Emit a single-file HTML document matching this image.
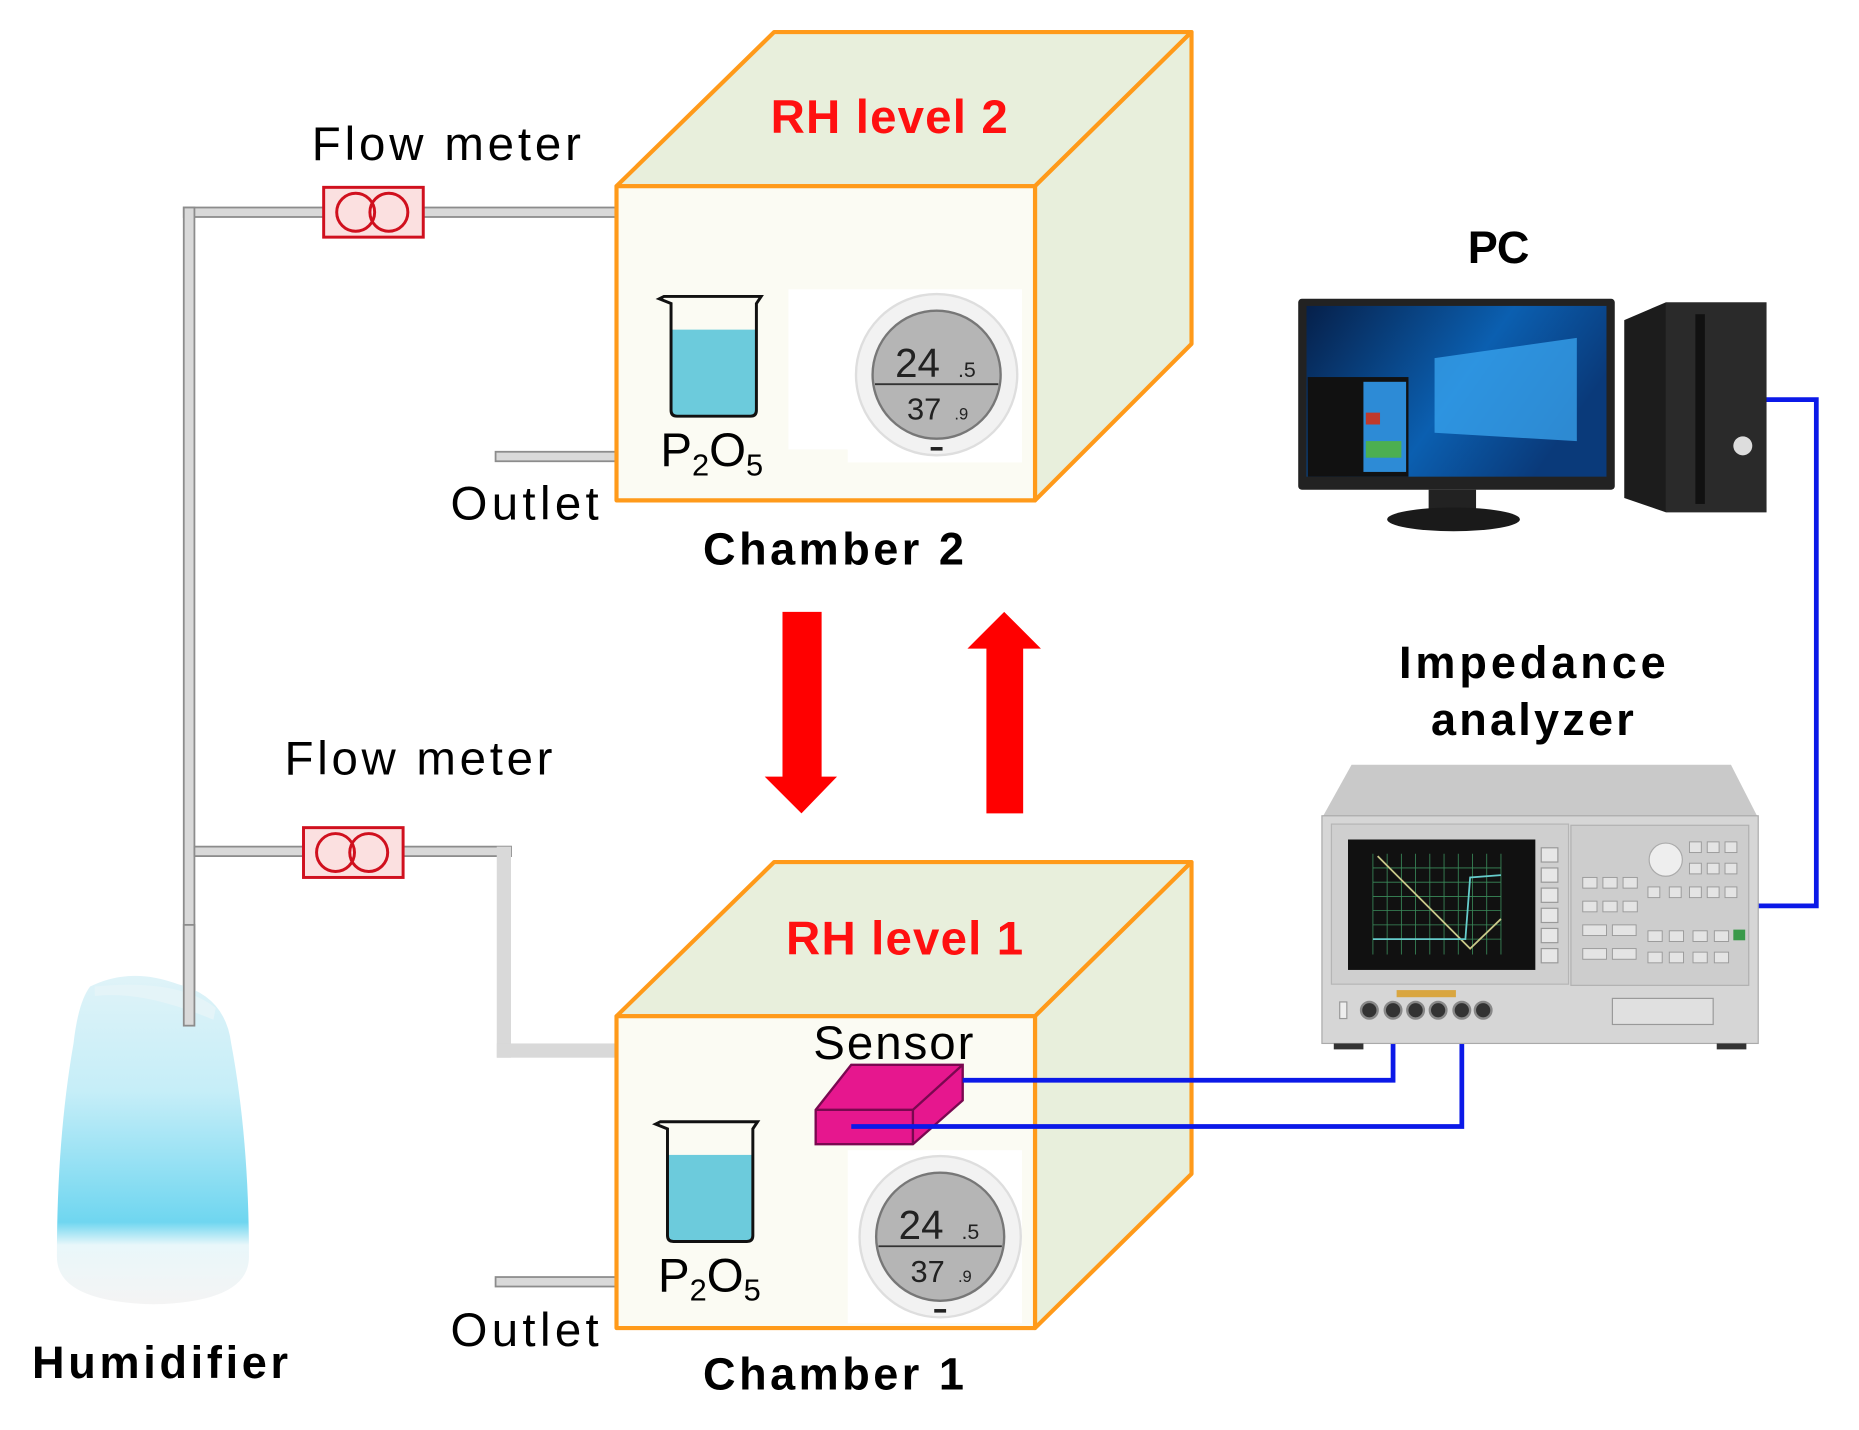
<!DOCTYPE html>
<html><head><meta charset="utf-8"><style>
html,body{margin:0;padding:0;background:#fff;}
svg{display:block;}
text{font-family:"Liberation Sans",sans-serif;}
</style></head><body>
<svg width="1859" height="1430" viewBox="0 0 1568 1206" preserveAspectRatio="none" xmlns="http://www.w3.org/2000/svg">
<defs>
<linearGradient id="hum" x1="0" y1="0" x2="0" y2="1">
<stop offset="0" stop-color="#dff3f8"/><stop offset="0.35" stop-color="#c6eef8"/><stop offset="0.75" stop-color="#6fd6f0"/><stop offset="0.82" stop-color="#e9f7fa"/><stop offset="1" stop-color="#f4f4f4"/>
</linearGradient>
<linearGradient id="scr" x1="0" y1="0" x2="1" y2="0.4">
<stop offset="0" stop-color="#06204a"/><stop offset="0.6" stop-color="#0b5fb0"/><stop offset="1" stop-color="#0a3a7a"/>
</linearGradient>
</defs>

<g fill="#d9d9d9" stroke="#8c8c8c" stroke-width="1.5">
<rect x="155" y="175" width="367" height="8"/>
<rect x="155" y="175" width="9" height="690"/>
<rect x="164" y="714" width="267" height="8"/>
<rect x="418" y="381" width="102" height="8"/>
<rect x="418" y="1077" width="102" height="8"/>
</g>
<rect x="419" y="714" width="12" height="178" fill="#d9d9d9"/>
<rect x="419" y="880" width="101" height="12" fill="#d9d9d9"/>

<g stroke="#d0101e" stroke-width="2.5" fill="#fbe0e0">
<rect x="273" y="158" width="84" height="42"/>
<circle cx="300" cy="179" r="16" fill="none"/><circle cx="328" cy="179" r="16" fill="none"/>
<rect x="256" y="698" width="84" height="42"/>
<circle cx="283" cy="719" r="16" fill="none"/><circle cx="311" cy="719" r="16" fill="none"/>
</g>
<text x="263" y="135" font-size="40" textLength="227">Flow meter</text>
<text x="240" y="653" font-size="40" textLength="226">Flow meter</text>

<g stroke="#ff9a1a" stroke-width="3.5" stroke-linejoin="round">
<polygon points="520,157 653,27 1005,27 873,157" fill="#e8efdc"/>
<polygon points="873,157 1005,27 1005,290 873,422" fill="#e8efdc"/>
<rect x="520" y="157" width="353" height="265" fill="#fbfbf3"/>
</g>
<text x="650" y="112" font-size="40" font-weight="bold" fill="#ff1010" textLength="200">RH level 2</text>
<g stroke="#ff9a1a" stroke-width="3.5" stroke-linejoin="round">
<polygon points="520,857 653,727 1005,727 873,857" fill="#e8efdc"/>
<polygon points="873,857 1005,727 1005,990 873,1120" fill="#e8efdc"/>
<rect x="520" y="857" width="353" height="263" fill="#fbfbf3"/>
</g>
<text x="663" y="805" font-size="40" font-weight="bold" fill="#ff1010" textLength="200">RH level 1</text>

<g>
<rect x="566" y="278" width="72" height="72" fill="#6ccbdc"/>
<path d="M556,252 L566,256 L566,346 Q566,351 571,351 L633,351 Q638,351 638,346 L638,256 L642,250 L560,250 Z" fill="none" stroke="#111" stroke-width="2.5"/>
<text x="557" y="393" font-size="40">P<tspan font-size="26" dy="8">2</tspan><tspan dy="-8">O</tspan><tspan font-size="26" dy="8">5</tspan></text>
</g>
<g>
<rect x="563" y="974" width="72" height="72" fill="#6ccbdc"/>
<path d="M553,948 L563,952 L563,1042 Q563,1047 568,1047 L630,1047 Q635,1047 635,1042 L635,952 L639,946 L557,946 Z" fill="none" stroke="#111" stroke-width="2.5"/>
<text x="555" y="1089" font-size="40">P<tspan font-size="26" dy="8">2</tspan><tspan dy="-8">O</tspan><tspan font-size="26" dy="8">5</tspan></text>
</g>

<g>
<rect x="665" y="244" width="197" height="135" fill="#fff"/>
<rect x="715" y="244" width="147" height="146" fill="#fff"/>
<circle cx="790" cy="316" r="68" fill="#f2f2f2" stroke="#dedede" stroke-width="2"/>
<circle cx="790" cy="316" r="54" fill="#b5b5b5" stroke="#777" stroke-width="2"/>
<line x1="738" y1="324" x2="842" y2="324" stroke="#333" stroke-width="1.5"/>
<text x="755" y="318" font-size="34" font-family="Liberation Mono" fill="#222">24</text>
<text x="808" y="318" font-size="18" fill="#222">.5</text>
<text x="765" y="354" font-size="26" font-family="Liberation Mono" fill="#222">37</text>
<text x="805" y="354" font-size="14" fill="#222">.9</text>
<rect x="785" y="377" width="10" height="3" fill="#222"/>
</g>
<g>
<rect x="715" y="970" width="147" height="146" fill="#fff"/>
<circle cx="793" cy="1043" r="68" fill="#f2f2f2" stroke="#dedede" stroke-width="2"/>
<circle cx="793" cy="1043" r="54" fill="#b5b5b5" stroke="#777" stroke-width="2"/>
<line x1="741" y1="1051" x2="845" y2="1051" stroke="#333" stroke-width="1.5"/>
<text x="758" y="1045" font-size="34" font-family="Liberation Mono" fill="#222">24</text>
<text x="811" y="1045" font-size="18" fill="#222">.5</text>
<text x="768" y="1081" font-size="26" font-family="Liberation Mono" fill="#222">37</text>
<text x="808" y="1081" font-size="14" fill="#222">.9</text>
<rect x="788" y="1104" width="10" height="3" fill="#222"/>
</g>

<text x="380" y="438" font-size="40" textLength="125">Outlet</text>
<text x="380" y="1135" font-size="40" textLength="125">Outlet</text>
<text x="593" y="476" font-size="38" font-weight="bold" textLength="220">Chamber 2</text>
<text x="593" y="1172" font-size="38" font-weight="bold" textLength="220">Chamber 1</text>

<polygon points="660,516 693,516 693,655 706,655 676,686 645,655 660,655" fill="#ff0000"/>
<polygon points="832,686 863,686 863,547 878,547 847,516 816,547 832,547" fill="#ff0000"/>

<text x="686" y="893" font-size="40" textLength="135">Sensor</text>
<polygon points="688,936 718,898 812,898 812,928 770,965 688,965" fill="#e6178e" stroke="#7a0850" stroke-width="2"/>
<polyline points="688,936 770,936 812,898" fill="none" stroke="#7a0850" stroke-width="2"/>
<line x1="770" y1="936" x2="770" y2="965" stroke="#7a0850" stroke-width="2"/>

<g fill="none" stroke="#0b19e8" stroke-width="4">
<polyline points="812,911 1175,911 1175,852"/>
<polyline points="718,950 1233,950 1233,852"/>
<polyline points="1488,337 1532,337 1532,764 1480,764"/>
</g>

<text x="1238" y="222" font-size="38" font-weight="bold" textLength="52">PC</text>
<rect x="1095" y="252" width="267" height="161" rx="3" fill="#222"/>
<rect x="1102" y="258" width="253" height="144" fill="url(#scr)"/>
<polygon points="1210,302 1330,285 1330,372 1210,365" fill="#3aa6f0" opacity="0.75"/>
<rect x="1103" y="318" width="85" height="84" fill="#111"/>
<rect x="1150" y="322" width="36" height="76" fill="#2d8bd6"/>
<rect x="1152" y="348" width="12" height="10" fill="#c0392b"/>
<rect x="1152" y="372" width="30" height="14" fill="#4caf50"/>
<rect x="1205" y="413" width="40" height="20" fill="#222"/>
<ellipse cx="1226" cy="438" rx="56" ry="10" fill="#1a1a1a"/>
<polygon points="1370,270 1405,255 1490,255 1490,432 1405,432 1370,420" fill="#1c1c1c"/>
<rect x="1405" y="255" width="85" height="177" fill="#2a2a2a"/>
<rect x="1430" y="265" width="8" height="160" fill="#111"/>
<circle cx="1470" cy="376" r="8" fill="#ddd"/>

<text x="1180" y="572" font-size="38" font-weight="bold" textLength="225">Impedance</text>
<text x="1207" y="620" font-size="38" font-weight="bold" textLength="171">analyzer</text>
<polygon points="1140,645 1460,645 1483,690 1115,690" fill="#c9c9c9"/>
<rect x="1115" y="688" width="368" height="192" fill="#d6d6d6" stroke="#aaa"/>
<rect x="1123" y="695" width="200" height="135" fill="#cfcfcf" stroke="#b5b5b5"/>
<rect x="1137" y="708" width="158" height="110" fill="#111"/>
<g stroke="#3a8a5a" stroke-width="0.7">
<path d="M1158,720 V805 M1170,720 V805 M1182,720 V805 M1194,720 V805 M1206,720 V805 M1218,720 V805 M1230,720 V805 M1242,720 V805 M1254,720 V805 M1266,720 V805"/>
<path d="M1158,732 H1266 M1158,744 H1266 M1158,756 H1266 M1158,768 H1266 M1158,780 H1266 M1158,792 H1266"/>
</g>
<polyline points="1162,722 1240,800 1266,775" fill="none" stroke="#c9c98a" stroke-width="1.5"/>
<polyline points="1158,792 1236,792 1240,740 1266,738" fill="none" stroke="#6cc" stroke-width="1.5"/>
<g fill="#e6e6e6" stroke="#999">
<rect x="1300" y="715" width="14" height="12"/><rect x="1300" y="732" width="14" height="12"/><rect x="1300" y="749" width="14" height="12"/><rect x="1300" y="766" width="14" height="12"/><rect x="1300" y="783" width="14" height="12"/><rect x="1300" y="800" width="14" height="12"/>
</g>
<rect x="1325" y="696" width="150" height="135" fill="#cdcdcd" stroke="#b0b0b0"/>
<circle cx="1405" cy="725" r="14" fill="#eee" stroke="#aaa"/>
<g fill="#e4e4e4" stroke="#9a9a9a" stroke-width="0.8">
<rect x="1335" y="740" width="12" height="9"/><rect x="1352" y="740" width="12" height="9"/><rect x="1369" y="740" width="12" height="9"/>
<rect x="1335" y="760" width="12" height="9"/><rect x="1352" y="760" width="12" height="9"/><rect x="1369" y="760" width="12" height="9"/>
<rect x="1335" y="780" width="20" height="9"/><rect x="1360" y="780" width="20" height="9"/>
<rect x="1335" y="800" width="20" height="9"/><rect x="1360" y="800" width="20" height="9"/>
<rect x="1425" y="710" width="10" height="9"/><rect x="1440" y="710" width="10" height="9"/><rect x="1455" y="710" width="10" height="9"/>
<rect x="1425" y="728" width="10" height="9"/><rect x="1440" y="728" width="10" height="9"/><rect x="1455" y="728" width="10" height="9"/>
<rect x="1390" y="748" width="10" height="9"/><rect x="1408" y="748" width="10" height="9"/><rect x="1425" y="748" width="10" height="9"/><rect x="1440" y="748" width="10" height="9"/><rect x="1455" y="748" width="10" height="9"/>
<rect x="1390" y="785" width="12" height="9"/><rect x="1408" y="785" width="12" height="9"/><rect x="1428" y="785" width="12" height="9"/><rect x="1446" y="785" width="12" height="9"/>
<rect x="1390" y="803" width="12" height="9"/><rect x="1408" y="803" width="12" height="9"/><rect x="1428" y="803" width="12" height="9"/><rect x="1446" y="803" width="12" height="9"/>
</g>
<rect x="1462" y="784" width="10" height="9" fill="#3a9a4a"/>
<rect x="1178" y="835" width="50" height="6" fill="#d9a640"/>
<g fill="#333" stroke="#888" stroke-width="2">
<circle cx="1155" cy="852" r="7"/><circle cx="1175" cy="852" r="7"/><circle cx="1194" cy="852" r="7"/><circle cx="1213" cy="852" r="7"/><circle cx="1233" cy="852" r="7"/><circle cx="1251" cy="852" r="7"/>
</g>
<rect x="1130" y="845" width="6" height="14" fill="#eee" stroke="#999"/>
<rect x="1360" y="842" width="85" height="22" fill="#e0e0e0" stroke="#999"/>
<rect x="1125" y="880" width="25" height="5" fill="#333"/><rect x="1448" y="880" width="25" height="5" fill="#333"/>

<path d="M76,832 Q110,815 150,830 Q190,840 195,880 Q210,960 210,1060 Q210,1098 130,1100 Q48,1098 48,1060 Q48,960 62,880 Q66,845 76,832 Z" fill="url(#hum)"/>
<path d="M80,840 Q120,835 180,860 L182,850 Q150,825 80,832 Z" fill="#e4f4f8"/>
<rect x="155" y="780" width="9" height="85" fill="#d9d9d9" stroke="#8c8c8c" stroke-width="1.5"/>
<text x="27" y="1162" font-size="38" font-weight="bold" textLength="216">Humidifier</text>
</svg>
</body></html>
